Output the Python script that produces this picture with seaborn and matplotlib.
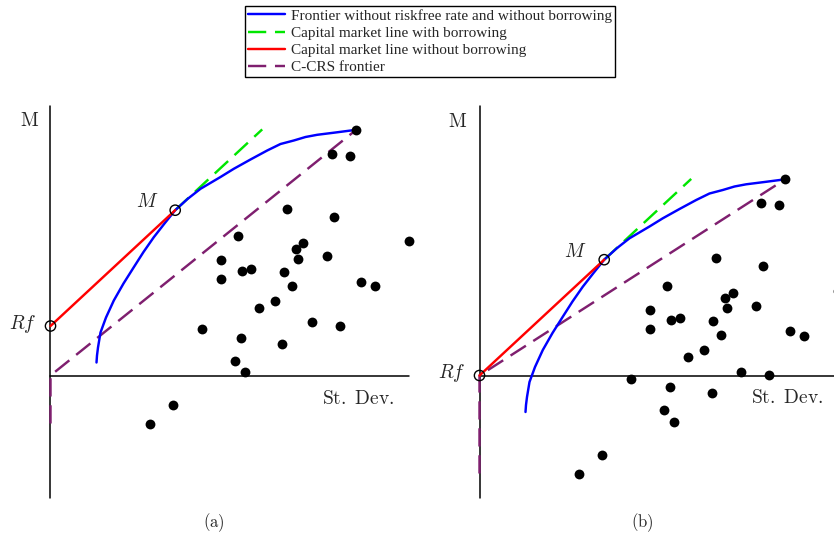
import matplotlib
matplotlib.use("Agg")
import matplotlib.pyplot as plt
from matplotlib.lines import Line2D
import seaborn as sns
import pandas as pd

sns.set_theme(style="white")
plt.rcParams["mathtext.fontset"] = "cm"
plt.rcParams["font.family"] = ["Liberation Serif", "DejaVu Serif"]

# ---------------- data (panel (a) coordinates: st.dev, mean return) -------------
rf = 0.495
asset_sd = [3.057, 2.817, 2.993, 2.367, 2.833, 1.873, 3.583, 2.530, 2.453, 1.703,
            2.473, 2.763, 1.917, 2.003, 2.333, 1.703, 2.417, 3.103, 3.243, 2.243,
            2.087, 1.510, 2.617, 2.897, 1.900, 2.320, 1.847, 1.940, 1.220, 0.997]
asset_ret = [2.457, 2.217, 2.197, 1.667, 1.587, 1.393, 1.343, 1.323, 1.267, 1.153,
             1.170, 1.193, 1.047, 1.067, 1.037, 0.963, 0.897, 0.940, 0.893, 0.747,
             0.680, 0.463, 0.533, 0.500, 0.380, 0.317, 0.147, 0.033, -0.297, -0.487]

frontier_sd = [0.460, 0.465, 0.475, 0.500, 0.555, 0.633, 0.730, 0.833, 0.930, 1.033,
               1.140, 1.247, 1.370, 1.500, 1.700, 1.833, 2.000, 2.167, 2.300, 2.433,
               2.550, 2.667, 2.850, 3.057]
frontier_ret = [0.130, 0.200, 0.280, 0.430, 0.580, 0.750, 0.920, 1.083, 1.235, 1.383,
                1.520, 1.653, 1.765, 1.867, 1.985, 2.067, 2.160, 2.250, 2.315, 2.350,
                2.385, 2.407, 2.430, 2.457]

m_sd, m_ret = 1.247, 1.653          # tangency portfolio M
cml_end_sd = 2.117                  # end of the borrowing part of the CML
ccrs_bottom = {"a": -0.48, "b": -0.98}

BLUE, GREEN, RED, PURPLE = "#0000ff", "#00e600", "#ff0000", "#7f1f6f"
LW = 1.75
DASH = (0, (7.5, 3.6))

fig = plt.figure(figsize=(8.34, 5.37), dpi=100)
ax_a = fig.add_axes([0, 0, 420 / 834, 1])
ax_b = fig.add_axes([420 / 834, 0, 414 / 834, 1])
ax_a.set_xlim(-0.505, 3.695)
ax_b.set_xlim(-0.595, 3.545)

panels = [(ax_a, "a", 3.58, (22.5, 324), (146.7, 202), (30, 121), (358, 399)),
          (ax_b, "b", 3.70, (451.7, 373), (575, 252), (458, 121.7), (787, 398))]

for ax, key, hmax, rf_lab, m_lab, mt_lab, sd_lab in panels:
    off = 0.0 if key == "a" else rf   # panel (b) shows excess returns
    ax.set_ylim(-1.615, 3.755)
    ax.axis("off")
    # axes lines
    ax.plot([0, 0], [-1.227, 2.70], color="black", lw=1.1, zorder=1)
    ax.plot([0, hmax], [0, 0], color="black", lw=1.1, zorder=1)

    rf_y = rf - off
    fr = pd.DataFrame({"sd": frontier_sd, "ret": [r - off for r in frontier_ret]})
    sns.lineplot(data=fr, x="sd", y="ret", ax=ax, color=BLUE, lw=LW, sort=False,
                 estimator=None, zorder=3)
    slope = (m_ret - rf) / m_sd
    g = pd.DataFrame({"sd": [m_sd, cml_end_sd],
                      "ret": [m_ret - off, rf - off + slope * cml_end_sd]})
    sns.lineplot(data=g, x="sd", y="ret", ax=ax, color=GREEN, lw=LW, sort=False,
                 estimator=None, linestyle=DASH, zorder=2)
    r = pd.DataFrame({"sd": [0, m_sd], "ret": [rf_y, m_ret - off]})
    sns.lineplot(data=r, x="sd", y="ret", ax=ax, color=RED, lw=LW, sort=False,
                 estimator=None, zorder=4)
    c = pd.DataFrame({"sd": [0, 0, asset_sd[0]],
                      "ret": [ccrs_bottom[key], 0, asset_ret[0] - off]})
    sns.lineplot(data=c, x="sd", y="ret", ax=ax, color=PURPLE, lw=LW, sort=False,
                 estimator=None, linestyle=DASH, zorder=2)

    pts = pd.DataFrame({"sd": asset_sd, "ret": [v - off for v in asset_ret]})
    sns.scatterplot(data=pts, x="sd", y="ret", ax=ax, color="black", s=50,
                    linewidth=0, zorder=5)
    circ = pd.DataFrame({"sd": [0, m_sd], "ret": [rf_y, m_ret - off]})
    sns.scatterplot(data=circ, x="sd", y="ret", ax=ax, facecolor="none",
                    edgecolor="black", s=55, linewidth=1.0, zorder=6)
    ax.set_xlabel("")
    ax.set_ylabel("")

# texts (figure pixel coordinates, from top-left)
def ftext(x, y, s, size, **kw):
    fig.text(x / 834, 1 - y / 537, s, fontsize=size, ha="center", va="center", **kw)

for _, _, _, rf_lab, m_lab, mt_lab, sd_lab in panels:
    ftext(*rf_lab, r"$Rf$", 14)
    ftext(*m_lab, r"$M$", 14)
    ftext(*mt_lab, r"$\mathrm{M}$", 14)
    ftext(*sd_lab, r"$\mathrm{St.\ Dev.}$", 14)
ftext(214, 523, r"$\mathrm{(a)}$", 12)
ftext(642, 523, r"$\mathrm{(b)}$", 12)

handles = [Line2D([], [], color=BLUE, lw=LW),
           Line2D([], [], color=GREEN, lw=LW, linestyle=DASH),
           Line2D([], [], color=RED, lw=LW),
           Line2D([], [], color=PURPLE, lw=LW, linestyle=DASH)]
labels = ["Frontier without riskfree rate and without borrowing",
          "Capital market line with borrowing",
          "Capital market line without borrowing",
          "C-CRS frontier"]
leg = fig.legend(handles, labels, loc="upper center",
                 bbox_to_anchor=(430 / 834, 1 - 6 / 537),
                 prop={"family": "Liberation Serif", "size": 11},
                 frameon=True, fancybox=False, edgecolor="black", framealpha=1,
                 handlelength=2.4, handletextpad=0.4, labelspacing=0.22,
                 borderpad=0.2, borderaxespad=0, handleheight=0.7)
leg.get_frame().set_linewidth(1.0)

fig.savefig("out.png", dpi=100)
